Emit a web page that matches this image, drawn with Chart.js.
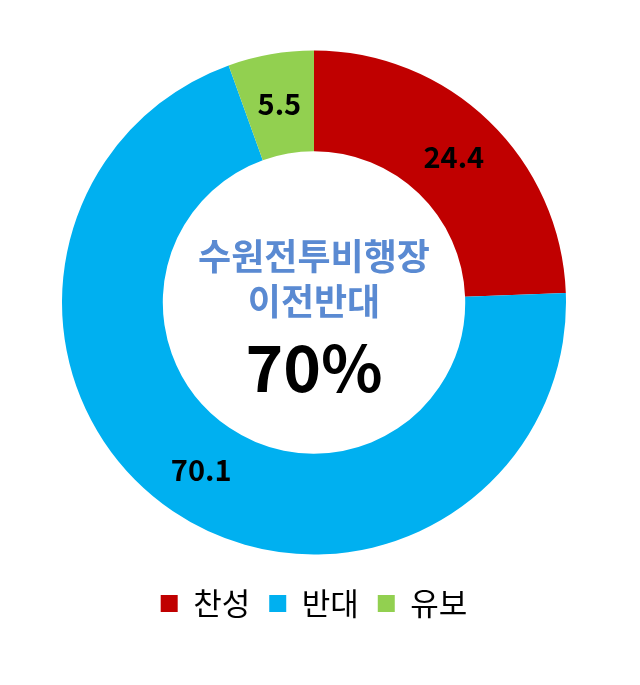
<!DOCTYPE html>
<html>
<head>
<meta charset="utf-8">
<script src="https://cdn.jsdelivr.net/npm/chart.js@4/dist/chart.umd.min.js"></script>
<style>
  html, body { margin: 0; padding: 0; background: #fff; }
  #wrap { width: 640px; height: 685px; }
</style>
</head>
<body>
<div id="wrap"><canvas id="myChart" width="640" height="685"></canvas></div>
<script>
// categories and values
let labels = ['찬성', '반대', '유보'];
let values = [24.4, 70.1, 5.5];
let colors = ['#C00000', '#00B0F0', '#92D050'];
// text in the hole
let centerTitle = ['수원전투비행장', '이전반대'];
let centerValue = '70%';

const KR = '"Noto Sans CJK KR", "Noto Sans", sans-serif';

// value labels sitting in the middle of each slice
const sliceLabels = {
  id: 'sliceLabels',
  afterDatasetsDraw(chart) {
    const ctx = chart.ctx;
    const meta = chart.getDatasetMeta(0);
    ctx.save();
    ctx.font = 'bold 29px ' + KR;
    ctx.fillStyle = '#000';
    ctx.textAlign = 'center';
    ctx.textBaseline = 'middle';
    meta.data.forEach((arc, i) => {
      const p = arc.getCenterPoint();
      ctx.fillText(values[i].toFixed(1), p.x, p.y);
    });
    ctx.restore();
  }
};

// title and big number in the hole
const centerText = {
  id: 'centerText',
  afterDraw(chart) {
    const ctx = chart.ctx;
    const arc = chart.getDatasetMeta(0).data[0];
    const cx = arc.x, cy = arc.y;
    ctx.save();
    ctx.textAlign = 'center';
    ctx.textBaseline = 'middle';
    ctx.fillStyle = '#5A8AD2';
    ctx.font = 'bold 36px ' + KR;
    ctx.fillText(centerTitle[0], cx, cy - 46);
    ctx.fillText(centerTitle[1], cx, cy - 1);
    ctx.fillStyle = '#000';
    ctx.font = 'bold 64px ' + KR;
    ctx.fillText(centerValue, cx, cy + 65);
    ctx.restore();
  }
};

function renderChart() {
  let ctx = document.getElementById('myChart');
  new Chart(ctx, {
    type: 'doughnut',
    data: {
      labels: labels,
      datasets: [{
        data: values,
        backgroundColor: colors,
        borderWidth: 0
      }]
    },
    options: {
      responsive: false,
      animation: false,
      radius: 252,
      cutout: '60%',
      layout: { padding: { top: 36, left: 0, right: 12, bottom: 56 } },
      plugins: {
        tooltip: { enabled: false },
        legend: {
          position: 'bottom',
          labels: {
            boxWidth: 17,
            boxHeight: 17,
            padding: 19,
            color: '#000',
            font: { family: KR, size: 31 }
          }
        }
      }
    },
    plugins: [sliceLabels, centerText]
  });
}

renderChart();
</script>
</body>
</html>
